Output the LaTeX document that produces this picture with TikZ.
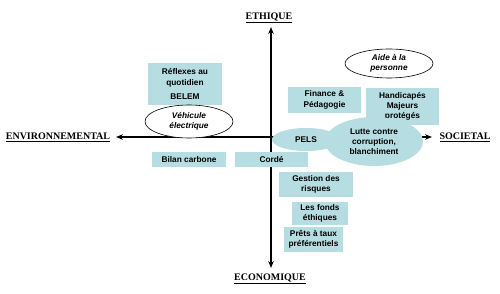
\documentclass[tikz,border=0pt]{standalone}
\usepackage{fontspec}
\setmainfont{Liberation Serif}
\setsansfont{Liberation Sans}
\usetikzlibrary{shapes.geometric,arrows.meta}
\definecolor{teal1}{RGB}{182,221,225}
\tikzset{
  boxtxt/.style={font=\sffamily\bfseries\fontsize{8.3}{10.3}\selectfont, align=center, inner sep=0pt},
  tbox/.style={boxtxt, fill=teal1, rectangle},
  tell/.style={boxtxt, fill=teal1, ellipse},
  well/.style={boxtxt, font=\sffamily\bfseries\itshape\fontsize{8.3}{10.3}\selectfont, fill=white, draw=black, line width=0.6pt, ellipse},
  axlab/.style={font=\bfseries\fontsize{10}{12}\selectfont, inner sep=0pt},
  axis/.style={line width=1.4pt, -{Stealth[length=7pt,width=5.5pt]}}
}
\begin{document}
\begin{tikzpicture}[x=1pt,y=-1pt]
\useasboundingbox (0,0) rectangle (500,294);
% axes
\coordinate (o) at (271,137);
\coordinate (top) at (271,27);
\coordinate (bot) at (271,268);
\coordinate (lft) at (116,137);
\coordinate (rgt) at (432,137);
\draw[axis] (o) -- (top);
\draw[axis] (o) -- (bot);
\draw[axis] (o) -- (lft);
\draw[axis] (o) -- (rgt);
\node[axlab] (eth) at (269,18) {\underline{ETHIQUE}};
\node[axlab] (eco) at (270,279) {\underline{ECONOMIQUE}};
\node[axlab] (env) at (58,137) {\underline{ENVIRONNEMENTAL}};
\node[axlab] (soc) at (465,137) {\underline{SOCIETAL}};
% boxes
\node[tbox, minimum width=74pt, minimum height=42pt] (refl) at (185,84) {R\'eflexes au\\quotidien\\[4pt]BELEM};
\node[well, minimum width=88pt, minimum height=33pt] (vehic) at (189,121.5) {V\'ehicule\\\'electrique};
\node[well, minimum width=88pt, minimum height=29pt] (aide) at (389,63.5) {Aide \`a la\\personne};
\node[tbox, minimum width=73pt, minimum height=26pt] (fin) at (324.5,100) {Finance \&\\P\'edagogie};
\node[tbox, minimum width=73pt, minimum height=37pt] (hand) at (402.5,106.5) {Handicap\'es\\Majeurs\\prot\'eg\'es};
\node[tell, minimum width=68pt, minimum height=23pt] (pels) at (306,139.5) {PELS};
\node[tell, minimum width=98pt, minimum height=49pt] (lutte) at (374,141.5) {Lutte contre\\corruption,\\blanchiment};
\node[tbox, minimum width=74pt, minimum height=15pt] (bilan) at (189,159.5) {Bilan carbone};
\node[tbox, minimum width=73pt, minimum height=15pt] (corde) at (271.5,159.5) {Cord\'e};
\node[tbox, minimum width=74pt, minimum height=25pt] (gest) at (316,184.5) {Gestion des\\risques};
\node[tbox, minimum width=56pt, minimum height=23pt] (fonds) at (320,213.5) {Les fonds\\\'ethiques};
\node[tbox, minimum width=59pt, minimum height=25pt] (prets) at (313.5,239.5) {Pr\^ets \`a taux\\pr\'ef\'erentiels};
\end{tikzpicture}
\end{document}
